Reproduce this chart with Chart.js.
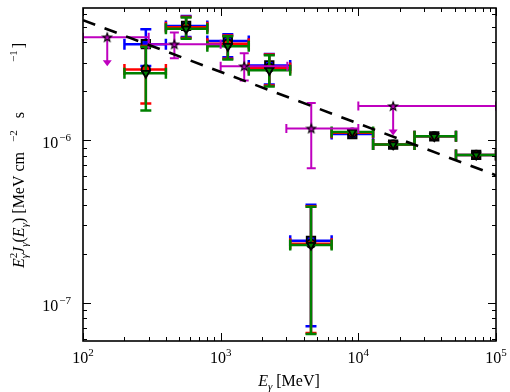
<!DOCTYPE html>
<html><head><meta charset="utf-8">
<script src="https://cdn.jsdelivr.net/npm/chart.js@4"></script>
<style>html,body{margin:0;padding:0;background:#fff;}canvas{display:block;}</style>
</head><body>
<canvas id="c" width="510" height="392"></canvas>
<script>
// ---------------- data ----------------
const binCenters = [286, 561, 1127, 2255, 4530, 9040, 17900, 35600, 71800];
const binLow     = [200, 400, 800, 1600, 3200, 6400, 12800, 25600, 51200];
const binHigh    = [400, 800, 1600, 3200, 6400, 12800, 25600, 51200, 100000];

const blueFlux = [3.89e-6, 5.04e-6, 4.07e-6, 2.88e-6, 2.40e-7, 1.09e-6, 9.38e-7, 1.055e-6, 8.1e-7];
const blueUp   = [4.81e-6, 5.81e-6, 4.48e-6, 3.39e-6, 4.00e-7, 1.09e-6, 9.38e-7, 1.055e-6, 8.1e-7];
const blueDown = [2.86e-6, 4.31e-6, 3.24e-6, 2.20e-6, 7.16e-8, 1.09e-6, 9.38e-7, 1.055e-6, 8.1e-7];

const redFlux = [2.72e-6, 4.95e-6, 3.92e-6, 2.78e-6, 2.30e-7, 1.11e-6, 9.38e-7, 1.055e-6, 8.1e-7];
const redUp   = [3.80e-6, 5.75e-6, 4.40e-6, 3.36e-6, 3.92e-7, 1.11e-6, 9.38e-7, 1.055e-6, 8.1e-7];
const redDown = [1.68e-6, 4.25e-6, 3.17e-6, 2.17e-6, 6.5e-8, 1.11e-6, 9.38e-7, 1.055e-6, 8.1e-7];

const greenFlux = [2.58e-6, 4.84e-6, 3.78e-6, 2.69e-6, 2.26e-7, 1.12e-6, 9.38e-7, 1.055e-6, 8.1e-7];
const greenUp   = [3.75e-6, 5.68e-6, 4.35e-6, 3.33e-6, 3.89e-7, 1.12e-6, 9.38e-7, 1.055e-6, 8.1e-7];
const greenDown = [1.52e-6, 4.20e-6, 3.13e-6, 2.14e-6, 6.4e-8, 1.12e-6, 9.38e-7, 1.055e-6, 8.1e-7];

const magE     = [150, 461, 1483, 4550, 17900];
const magLow   = [100, 300, 1000, 3000, 10000];
const magHigh  = [300, 1000, 3050, 10000, 100000];
const magFlux  = [4.3e-6, 3.89e-6, 2.85e-6, 1.18e-6, 1.62e-6];
const magUp    = [null, 4.6e-6, 3.42e-6, 1.69e-6, null];
const magDown  = [null, 3.19e-6, 2.33e-6, 6.7e-7, null];
const magLimit = [2.85e-6, null, null, null, 1.066e-6];

const lineE    = [100, 100000];
const lineFlux = [5.47e-6, 6.07e-7];

const xTickValues = [1e2, 1e3, 1e4, 1e5];
const xTickExps   = ['2', '3', '4', '5'];
const yTickValues = [1e-7, 1e-6];
const yTickExps   = ['\u22127', '\u22126'];

// ---------------- helpers ----------------
const SERIF = '"Liberation Serif", "Times New Roman", serif';
const pts = (xs, ys) => xs.map((v, i) => ({x: v, y: ys[i]}));

function starCanvas(){
  const c = document.createElement('canvas');
  c.width = 12; c.height = 12;
  const g = c.getContext('2d');
  g.beginPath();
  for (let k = 0; k < 10; k++){
    const r = k % 2 ? 1.9 : 4.6;
    const a = -Math.PI/2 + k*Math.PI/5;
    const px = 6 + r*Math.cos(a), py = 6.4 + r*Math.sin(a);
    k ? g.lineTo(px, py) : g.moveTo(px, py);
  }
  g.closePath();
  g.fillStyle = '#bf00bf'; g.fill();
  g.lineWidth = 1.1; g.strokeStyle = '#000'; g.stroke();
  return c;
}

const errorBars = {
  id: 'errorBars',
  beforeDatasetDraw(chart, args){
    const ds = chart.data.datasets[args.index];
    if (!ds.eb) return;
    const eb = ds.eb, xs = chart.scales.x, ys = chart.scales.y, ctx = chart.ctx, a = chart.chartArea;
    ctx.save();
    ctx.beginPath(); ctx.rect(a.left, a.top, a.right - a.left, a.bottom - a.top); ctx.clip();
    ctx.strokeStyle = eb.color; ctx.fillStyle = eb.color; ctx.lineWidth = eb.width; ctx.lineCap = 'butt';
    const cap = eb.cap;
    ds.data.forEach((p, i) => {
      const px = xs.getPixelForValue(p.x), py = ys.getPixelForValue(p.y);
      const xl = xs.getPixelForValue(eb.xlo[i]), xh = xs.getPixelForValue(eb.xhi[i]);
      ctx.beginPath();
      ctx.moveTo(xl, py); ctx.lineTo(xh, py);
      ctx.moveTo(xl, py - cap); ctx.lineTo(xl, py + cap);
      ctx.moveTo(xh, py - cap); ctx.lineTo(xh, py + cap);
      ctx.stroke();
      if (eb.yhi && eb.yhi[i] != null && eb.yhi[i] !== p.y){
        const yu = ys.getPixelForValue(eb.yhi[i]), yd = ys.getPixelForValue(eb.ylo[i]);
        ctx.beginPath();
        ctx.moveTo(px, yu); ctx.lineTo(px, yd);
        ctx.moveTo(px - cap, yu); ctx.lineTo(px + cap, yu);
        ctx.moveTo(px - cap, yd); ctx.lineTo(px + cap, yd);
        ctx.stroke();
      }
      if (eb.lim && eb.lim[i] != null){
        const yl = ys.getPixelForValue(eb.lim[i]);
        ctx.beginPath(); ctx.moveTo(px, py); ctx.lineTo(px, yl - 4); ctx.stroke();
        ctx.beginPath();
        ctx.moveTo(px - 4.5, yl - 6); ctx.lineTo(px + 4.5, yl - 6); ctx.lineTo(px, yl); ctx.closePath();
        ctx.fill();
      }
    });
    ctx.restore();
  }
};

function drawSegs(ctx, segs, x, y, align){
  // segs: {t, f, dy, noadv, gap}
  let w = 0;
  segs.forEach(s => { ctx.font = s.f; if (!s.noadv) w += ctx.measureText(s.t).width + (s.gap || 0); });
  let cx = align === 'center' ? x - w/2 : (align === 'right' ? x - w : x);
  segs.forEach(s => {
    ctx.font = s.f;
    ctx.fillText(s.t, cx, y + (s.dy || 0));
    if (!s.noadv) cx += ctx.measureText(s.t).width + (s.gap || 0);
  });
}

const frame = {
  id: 'frame',
  afterDraw(chart){
    const ctx = chart.ctx, a = chart.chartArea, xs = chart.scales.x, ys = chart.scales.y;
    ctx.save();
    ctx.strokeStyle = '#000'; ctx.lineWidth = 1;
    const tick = (v, len, isX) => {
      ctx.beginPath();
      if (isX){
        const p = Math.round(xs.getPixelForValue(v)) + 0.5;
        ctx.moveTo(p, a.bottom); ctx.lineTo(p, a.bottom - len);
        ctx.moveTo(p, a.top); ctx.lineTo(p, a.top + len);
      } else {
        const p = Math.round(ys.getPixelForValue(v)) + 0.5;
        ctx.moveTo(a.left, p); ctx.lineTo(a.left + len, p);
        ctx.moveTo(a.right, p); ctx.lineTo(a.right - len, p);
      }
      ctx.stroke();
    };
    for (let d = 2; d <= 4; d++) for (let k = 2; k <= 9; k++) tick(k * Math.pow(10, d), 4, true);
    xTickValues.forEach(v => tick(v, 8, true));
    for (let d = -8; d <= -6; d++) for (let k = 2; k <= 9; k++){
      const v = k * Math.pow(10, d);
      if (v > ys.min && v < ys.max) tick(v, 4, false);
    }
    yTickValues.forEach(v => tick(v, 8, false));
    ctx.lineWidth = 1.6;
    ctx.strokeRect(a.left, a.top, a.right - a.left, a.bottom - a.top);

    ctx.fillStyle = '#000'; ctx.textBaseline = 'alphabetic';
    const big = '16px ' + SERIF, small = '11px ' + SERIF;
    xTickValues.forEach((v, i) => {
      drawSegs(ctx, [{t:'10', f:big}, {t:xTickExps[i], f:small, dy:-7}], xs.getPixelForValue(v), 363, 'center');
    });
    yTickValues.forEach((v, i) => {
      const p = ys.getPixelForValue(v);
      drawSegs(ctx, [{t:'10', f:big, gap:1}, {t:yTickExps[i], f:small, dy:-7}], 71, p + 8, 'right');
    });
    const it = 'italic 16px ' + SERIF, its = 'italic 11px ' + SERIF;
    drawSegs(ctx, [{t:'E', f:it}, {t:'\u03b3', f:its, dy:4}, {t:' [MeV]', f:big}], 289, 386, 'center');
    ctx.translate(24, 268); ctx.rotate(-Math.PI/2);
    drawSegs(ctx, [
      {t:'E', f:it}, {t:'2', f:small, dy:-7, noadv:true}, {t:'\u03b3', f:its, dy:4},
      {t:'J', f:it}, {t:'\u03b3', f:its, dy:4}, {t:'(', f:big}, {t:'E', f:it}, {t:'\u03b3', f:its, dy:4},
      {t:')', f:big}, {t:' [MeV cm', f:big, gap:10}, {t:'\u22122', f:small, dy:-7, gap:8}, {t:' s', f:big, gap:50},
      {t:'\u22121', f:small, dy:-7, gap:2}, {t:']', f:big}
    ], 0, 0, 'left');
    ctx.restore();
  }
};

const markerBase = {borderColor:'#000', borderWidth:1.8, showLine:false};

new Chart(document.getElementById('c'), {
  type: 'scatter',
  data: { datasets: [
    {label:'model', data: pts(lineE, lineFlux), showLine:true, borderColor:'#000', borderWidth:2.6,
      borderDash:[13,10], pointRadius:0, fill:false},
    {label:'magenta', data: pts(magE, magFlux), pointStyle: starCanvas(), pointRadius:6, showLine:false,
      eb:{color:'#bf00bf', width:2, cap:4.5, xlo:magLow, xhi:magHigh, ylo:magDown, yhi:magUp, lim:magLimit}},
    Object.assign({label:'green', data: pts(binCenters, greenFlux), pointStyle:'triangle', rotation:180,
      pointRadius:4.6, backgroundColor:'#008000',
      eb:{color:'#008000', width:2.5, cap:5.5, xlo:binLow, xhi:binHigh, ylo:greenDown, yhi:greenUp}}, markerBase),
    Object.assign({label:'red', data: pts(binCenters, redFlux), pointStyle:'circle',
      pointRadius:4.2, backgroundColor:'#ff0000',
      eb:{color:'#ff0000', width:2.5, cap:5.5, xlo:binLow, xhi:binHigh, ylo:redDown, yhi:redUp}}, markerBase),
    Object.assign({label:'blue', data: pts(binCenters, blueFlux), pointStyle:'rect',
      pointRadius:6, backgroundColor:'#0000ff',
      eb:{color:'#0000ff', width:2.5, cap:5.5, xlo:binLow, xhi:binHigh, ylo:blueDown, yhi:blueUp}}, markerBase)
  ]},
  options: {
    responsive:false, animation:false, devicePixelRatio:1,
    layout:{padding:{left:83, right:14, top:8, bottom:51}},
    plugins:{legend:{display:false}, tooltip:{enabled:false}},
    scales:{
      x:{type:'logarithmic', min:100, max:1e5, ticks:{display:false}, grid:{display:false},
         border:{display:false}, afterFit(s){ s.height = 0; }},
      y:{type:'logarithmic', min:5.8e-8, max:6.5e-6, ticks:{display:false}, grid:{display:false},
         border:{display:false}, afterFit(s){ s.width = 0; }}
    }
  },
  plugins:[errorBars, frame]
});
</script>
</body></html>
